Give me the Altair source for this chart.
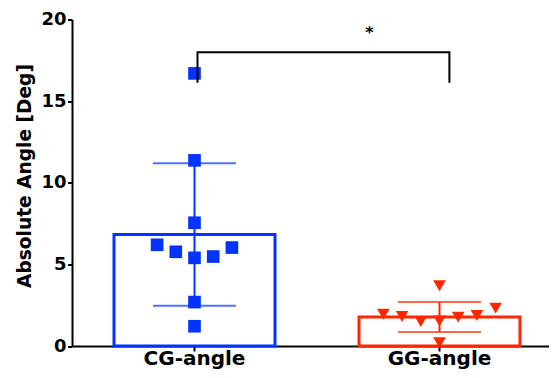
import altair as alt
import pandas as pd

# ---- data ----
groups = ["CG-angle", "GG-angle"]
colors = ["#0433FF", "#FF2600"]
shapes = ["square", "triangle-down"]

cg_values = [16.7, 11.37, 7.55, 6.2, 5.77, 5.4, 5.48, 6.03, 2.69, 1.21]
cg_jitter = [0, 0, 0, -2, -1, 0, 1, 2, 0, 0]
gg_values = [3.69, 2.32, 1.95, 1.81, 1.5, 1.54, 1.77, 1.87, 0.2]
gg_jitter = [0, 3, -3, -2, -1, 0, 1, 2, 0]

bar_means = [6.83, 1.775]
err_low = [2.46, 0.86]
err_high = [11.2, 2.69]

y_ticks = [0, 5, 10, 15, 20]
y_title = "Absolute Angle [Deg]"

# significance bracket (group, y, jitter-unit offset, drawing order)
bracket_group = ["CG-angle", "CG-angle", "GG-angle", "GG-angle"]
bracket_y = [16.13, 18.0, 18.0, 16.13]
bracket_off = [0.16, 0.16, 0.53, 0.53]
bracket_order = [0, 1, 2, 3]
star_y = [19.17]
star_text = ["*"]

FONT = "DejaVu Sans"

summary = pd.DataFrame({"group": groups, "mean": bar_means, "lo": err_low, "hi": err_high})
points = pd.DataFrame({
    "group": [groups[0]] * len(cg_values) + [groups[1]] * len(gg_values),
    "value": cg_values + gg_values,
    "jit": cg_jitter + gg_jitter,
})
bracket = pd.DataFrame({"group": bracket_group, "y": bracket_y, "jit": bracket_off, "o": bracket_order})
star = pd.DataFrame({"group": [groups[1]], "y": star_y, "t": star_text})

xscale = alt.Scale(domain=groups, range=[0, 490], paddingInner=0, paddingOuter=0)
yscale = alt.Scale(domain=[0, 20], nice=False)
offscale = alt.Scale(domain=[-6.55, 6.55])
color = alt.Color("group:N", scale=alt.Scale(domain=groups, range=colors), legend=None)
xaxis = alt.Axis(title=None, labelAngle=0, labelPadding=13, labelBaseline="alphabetic",
                 labelFontSize=20, tickSize=5)
yaxis = alt.Axis(values=y_ticks, title=y_title, titlePadding=6, titleY=156, labelFontSize=18,
                 labelPadding=1.5, tickSize=4.5)


def X(field="group"):
    return alt.X(f"{field}:N", scale=xscale, axis=xaxis)


def Y(field):
    return alt.Y(f"{field}:Q", scale=yscale, axis=yaxis, title=y_title)


bars = alt.Chart(summary).mark_bar(filled=False, strokeWidth=3, width=161).encode(
    x=X(), y=Y("mean"), stroke=alt.Stroke("group:N", scale=alt.Scale(domain=groups, range=colors), legend=None)
)
err_line = alt.Chart(summary).mark_rule(strokeWidth=2).encode(x=X(), y=Y("lo"), y2="hi", color=color)
cap_lo = alt.Chart(summary).mark_tick(size=83, thickness=2).encode(x=X(), y=Y("lo"), color=color)
cap_hi = alt.Chart(summary).mark_tick(size=83, thickness=2).encode(x=X(), y=Y("hi"), color=color)

pts = alt.Chart(points).mark_point(filled=True, size=160, opacity=1).encode(
    x=X(),
    xOffset=alt.XOffset("jit:Q", scale=offscale),
    y=Y("value"),
    color=color,
    shape=alt.Shape("group:N", scale=alt.Scale(domain=groups, range=shapes), legend=None),
)

br = alt.Chart(bracket).mark_line(strokeWidth=2, color="black", strokeJoin="miter").encode(
    x=X(), xOffset=alt.XOffset("jit:Q", scale=offscale), y=Y("y"), order="o:Q"
)
star_t = alt.Chart(star).mark_text(dx=-70, fontSize=16, fontWeight="bold", font=FONT, color="black").encode(
    x=X(), y=Y("y"), text="t:N"
)

chart = alt.layer(bars, err_line, cap_lo, cap_hi, pts, br, star_t).properties(
    width=477, height=326.5,
    autosize=alt.AutoSizeParams(type="none"),
    padding={"left": 64, "top": 11.5, "right": 0, "bottom": 24},
).configure_view(stroke=None).configure_axis(
    grid=False, domainColor="black", domainWidth=2, tickColor="black", tickWidth=2,
    labelFont=FONT, labelFontWeight="bold", labelColor="black",
    titleFont=FONT, titleFontSize=18.6, titleFontWeight="bold", titleColor="black", zindex=1,
)

chart.save("out.html", embed_options={"renderer": "svg", "actions": False})
